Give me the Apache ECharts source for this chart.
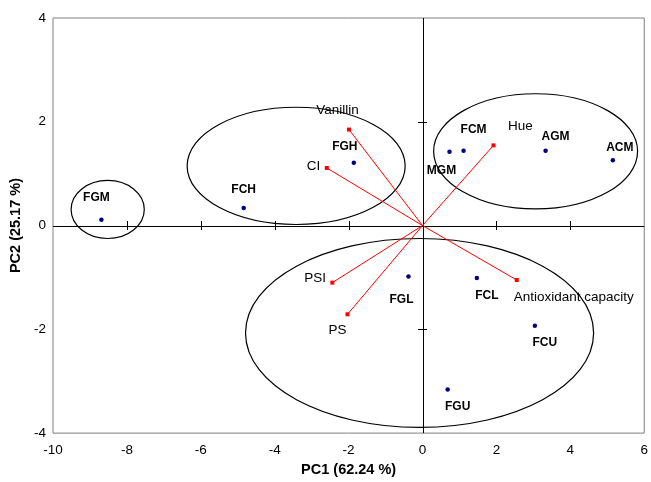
<!DOCTYPE html>
<html><head><meta charset="utf-8">
<script src="https://cdn.jsdelivr.net/npm/echarts@6/dist/echarts.min.js"></script>
<style>html,body{margin:0;padding:0;background:#fff}#c{width:651px;height:482px}</style>
</head><body><div id="c"></div>
<script>
// ---- data ----
const sampleNames = ['FGM','FCH','FGH','MGM','FCM','AGM','ACM','FGL','FCL','FCU','FGU'];
const sampleX = [-8.69,-4.84,-1.86,0.73,1.11,3.33,5.15,-0.38,1.47,3.04,0.68];
const sampleY = [0.11,0.34,1.21,1.42,1.44,1.44,1.26,-0.98,-1.01,-1.93,-3.16];
const loadingNames = ['Vanillin','CI','Hue','Antioxidant capacity','PSI','PS'];
const loadingX = [-1.99,-2.59,1.92,2.55,-2.44,-2.03];
const loadingY = [1.85,1.11,1.545,-1.05,-1.10,-1.71];
const ellipseCX = [-8.52,-3.42,3.06,-0.08];
const ellipseCY = [0.31,1.15,1.43,-2.07];
const ellipseRX = [0.99,2.95,2.76,4.71];
const ellipseRY = [0.56,1.13,1.11,1.82];
const xTickValues = [-10,-8,-6,-4,-2,0,2,4,6];
const yTickValues = [-4,-2,0,2,4];
const xAxisTitle = 'PC1 (62.24 %)';
const yAxisTitle = 'PC2 (25.17 %)';

// ---- layout (label offsets in px) ----
const sampleLabelOffset = {FGM:[-5,-22],FCH:[0,-18],FGH:[-9,-16],MGM:[-8,19],FCM:[10,-21],AGM:[10,-14],ACM:[7,-12],FGL:[-7,23],FCL:[10,18],FCU:[10,17],FGU:[10,17]};
const loadingLabelOffset = {'Vanillin':[-11.5,-19],'CI':[-13.4,-2],'Hue':[27,-19],'Antioxidant capacity':[57,17],'PSI':[-17.3,-4],'PS':[-10,16]};

const FONT = "'Liberation Sans', Arial, sans-serif";
const xMin = xTickValues[0], xMax = xTickValues[xTickValues.length-1];
const yMin = yTickValues[0], yMax = yTickValues[yTickValues.length-1];

const chart = echarts.init(document.getElementById('c'), null, {renderer:'canvas'});

const sampleData = sampleNames.map((n,i)=>({
  name:n, value:[sampleX[i], sampleY[i]],
  label:{offset: sampleLabelOffset[n]}
}));
const loadingData = loadingNames.map((n,i)=>({
  name:n, value:[loadingX[i], loadingY[i]],
  label:{offset: loadingLabelOffset[n]}
}));
const ellipseData = ellipseCX.map((c,i)=>[c, ellipseCY[i], ellipseRX[i], ellipseRY[i]]);

// zero-line cross ticks
const crossTicks = [];
xTickValues.forEach(v=>{ if (v!==0 && v!==xMin && v!==xMax) crossTicks.push([v,0,0]); });
yTickValues.forEach(v=>{ if (v!==0 && v!==yMin && v!==yMax) crossTicks.push([0,v,1]); });

const option = {
  backgroundColor:'#fff',
  animation:false,
  grid:{left:53, right:3, top:18, bottom:47, show:true, borderColor:'#808080', borderWidth:1, backgroundColor:'transparent'},
  xAxis:{type:'value', min:xMin, max:xMax, interval:2,
    splitLine:{show:false}, axisTick:{show:false}, axisLine:{show:false, onZero:false},
    axisLabel:{fontSize:13.5, color:'#000', fontFamily:FONT, margin:10},
    name:xAxisTitle, nameLocation:'middle', nameGap:25,
    nameTextStyle:{fontSize:14.5, fontWeight:'bold', color:'#000', fontFamily:FONT}},
  yAxis:{type:'value', min:yMin, max:yMax, interval:2,
    splitLine:{show:false}, axisTick:{show:false}, axisLine:{show:false, onZero:false},
    axisLabel:{fontSize:13.5, color:'#000', fontFamily:FONT, margin:7},
    name:yAxisTitle, nameLocation:'middle', nameGap:27,
    nameTextStyle:{fontSize:14.5, fontWeight:'bold', color:'#000', fontFamily:FONT}},
  series:[
    { // zero lines
      type:'custom', silent:true, z:1,
      data:[[0]],
      renderItem:function(params, api){
        const a = api.coord([xMin,0]), b = api.coord([xMax,0]);
        const c = api.coord([0,yMin]), d = api.coord([0,yMax]);
        return {type:'group', children:[
          {type:'line', shape:{x1:a[0],y1:Math.round(a[1])+0.5,x2:b[0],y2:Math.round(b[1])+0.5}, style:{stroke:'#000',lineWidth:1}},
          {type:'line', shape:{x1:Math.round(c[0])+0.5,y1:c[1],x2:Math.round(d[0])+0.5,y2:d[1]}, style:{stroke:'#000',lineWidth:1}}
        ]};
      }
    },
    { // cross ticks
      type:'custom', silent:true, z:1,
      data:crossTicks,
      renderItem:function(params, api){
        const p = api.coord([api.value(0), api.value(1)]);
        const L = 4.5;
        if (api.value(2)===0) {
          const x = Math.round(p[0])+0.5;
          return {type:'line', shape:{x1:x,y1:p[1]-L,x2:x,y2:p[1]+L}, style:{stroke:'#000',lineWidth:1}};
        }
        const y = Math.round(p[1])+0.5;
        return {type:'line', shape:{x1:p[0]-L,y1:y,x2:p[0]+L,y2:y}, style:{stroke:'#000',lineWidth:1}};
      }
    },
    { // ellipses
      type:'custom', silent:true, z:2,
      data:ellipseData,
      renderItem:function(params, api){
        const c = api.coord([api.value(0), api.value(1)]);
        const s = api.size([api.value(2), api.value(3)]);
        return {type:'ellipse', shape:{cx:c[0], cy:c[1], rx:s[0], ry:s[1]},
          style:{fill:'none', stroke:'#000', lineWidth:1.2}};
      }
    },
    { // loading vectors
      type:'custom', silent:true, z:3,
      data:loadingNames.map((n,i)=>[loadingX[i], loadingY[i]]),
      renderItem:function(params, api){
        const o = api.coord([0,0]);
        const p = api.coord([api.value(0), api.value(1)]);
        return {type:'line', shape:{x1:o[0],y1:o[1],x2:p[0],y2:p[1]}, style:{stroke:'#ff0000',lineWidth:1}};
      }
    },
    { // loading endpoints
      type:'scatter', z:4, symbol:'rect', symbolSize:4,
      itemStyle:{color:'#ff0000', opacity:1},
      data:loadingData,
      label:{show:true, position:'inside', formatter:'{b}', color:'#000', fontSize:13.5, fontFamily:FONT,
        textBorderWidth:0, textBorderColor:'transparent', opacity:1},
      emphasis:{disabled:true}
    },
    { // samples
      type:'scatter', z:5, symbol:'circle', symbolSize:4.5,
      itemStyle:{color:'#000080', opacity:1},
      data:sampleData,
      label:{show:true, position:'inside', formatter:'{b}', color:'#000', fontSize:12, fontWeight:'bold', fontFamily:FONT,
        textBorderWidth:0, textBorderColor:'transparent', opacity:1},
      emphasis:{disabled:true}
    }
  ]
};
chart.setOption(option);
</script>
</body></html>
